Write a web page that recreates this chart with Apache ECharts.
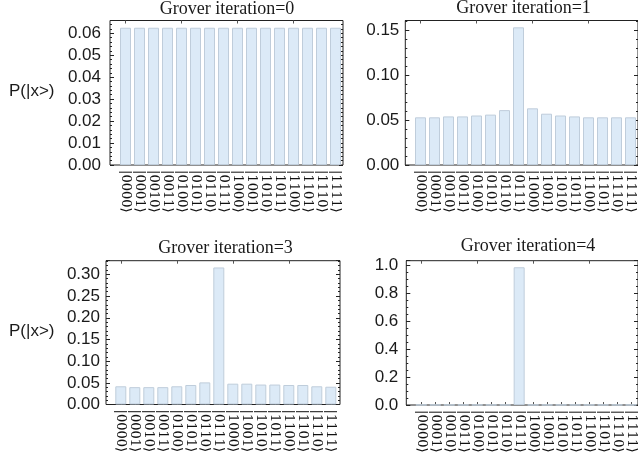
<!DOCTYPE html>
<html>
<head>
<meta charset="utf-8">
<script src="https://cdn.jsdelivr.net/npm/echarts@6/dist/echarts.min.js"></script>
<style>
html,body{margin:0;padding:0;background:#fff;}
#chart{width:638px;height:465px;}
</style>
</head>
<body>
<div id="chart"></div>
<script>
// ---- data ----
const categories = ['|0000⟩','|0001⟩','|0010⟩','|0011⟩','|0100⟩','|0101⟩','|0110⟩','|0111⟩',
                    '|1000⟩','|1001⟩','|1010⟩','|1011⟩','|1100⟩','|1101⟩','|1110⟩','|1111⟩'];
const titles = ['Grover iteration=0','Grover iteration=1','Grover iteration=3','Grover iteration=4'];
const yAxisName = 'P(|x>)';
const probIter0 = [0.0625,0.0625,0.0625,0.0625,0.0625,0.0625,0.0625,0.0625,0.0625,0.0625,0.0625,0.0625,0.0625,0.0625,0.0625,0.0625];
const probIter1 = [0.053,0.053,0.054,0.054,0.055,0.056,0.061,0.153,0.063,0.057,0.055,0.054,0.053,0.053,0.053,0.053];
const probIter3 = [0.042,0.040,0.040,0.040,0.042,0.045,0.051,0.316,0.048,0.048,0.046,0.046,0.045,0.045,0.042,0.041];
const probIter4 = [0.001,0.001,0.001,0.001,0.001,0.001,0.001,0.986,0.001,0.001,0.001,0.001,0.001,0.001,0.001,0.001];
const yMax = [0.0658, 0.1606, 0.3316, 1.033];
const yStep = [0.01, 0.05, 0.05, 0.2];
const yMinorStep = [0.002, 0.01, 0.01, 0.05];
const yDecimals = [2, 2, 2, 1];

// ---- layout ----
const panels = [
  {data: probIter0, frameLeft: 110,   top: 20.5,  height: 144.5, frameWidth: 233, barLeft: 118.5, labelMargin: 9, showName: true},
  {data: probIter1, frameLeft: 405.3, top: 20.5,  height: 144.5, frameWidth: 240, barLeft: 413.5, labelMargin: 6, showName: false},
  {data: probIter3, frameLeft: 106,   top: 260.7, height: 143.8, frameWidth: 234, barLeft: 113.8, labelMargin: 6, showName: true},
  {data: probIter4, frameLeft: 406.3, top: 260.7, height: 144.3, frameWidth: 240, barLeft: 414.3, labelMargin: 8, showName: false}
];
const titleCenters = [[227, 0.5], [523.5, -0.5], [225.5, 239], [528, 237.5]];

const grid = [], xAxis = [], yAxis = [], series = [], title = [], graphic = [];
const frameColor = '#222';

panels.forEach((p, i) => {
  const fg = grid.length;
  grid.push({left: p.frameLeft, top: p.top, width: p.frameWidth, height: p.height,
             show: true, borderColor: frameColor, borderWidth: 1, backgroundColor: 'transparent'});
  const bg = grid.length;
  grid.push({left: p.barLeft, top: p.top, width: 224, height: p.height});

  // frame axes
  xAxis.push({gridIndex: fg, type: 'value', show: false, min: 0, max: 1});
  const step = yStep[i], dec = yDecimals[i];
  const fmt = v => Math.abs(v / step - Math.round(v / step)) < 1e-6 ? v.toFixed(dec) : '';
  yAxis.push({gridIndex: fg, type: 'value', min: 0, max: yMax[i], interval: step, position: 'left',
    axisLine: {show: false}, splitLine: {show: false},
    axisTick: {show: true, inside: true, length: 4, lineStyle: {color: frameColor}},
    axisLabel: {formatter: fmt, fontFamily: 'Liberation Sans', fontSize: 17, color: '#1a1a1a',
                margin: p.labelMargin, padding: [0, 0, 5, 0]}});
  yAxis.push({gridIndex: fg, type: 'value', min: 0, max: yMax[i], interval: yMinorStep[i], position: 'left',
    axisLine: {show: false}, splitLine: {show: false}, axisLabel: {show: false},
    axisTick: {show: true, inside: true, length: 2, lineStyle: {color: frameColor}}});
  yAxis.push({gridIndex: fg, type: 'value', min: 0, max: yMax[i], interval: step, position: 'right',
    axisLine: {show: false}, splitLine: {show: false}, axisLabel: {show: false},
    axisTick: {show: true, inside: true, length: 4, lineStyle: {color: frameColor}}});
  yAxis.push({gridIndex: fg, type: 'value', min: 0, max: yMax[i], interval: yMinorStep[i], position: 'right',
    axisLine: {show: false}, splitLine: {show: false}, axisLabel: {show: false},
    axisTick: {show: true, inside: true, length: 2, lineStyle: {color: frameColor}}});

  // bar axes
  const xb = xAxis.length;
  xAxis.push({gridIndex: bg, type: 'category', data: categories, position: 'bottom',
    axisLine: {show: false},
    axisTick: {show: true, inside: true, alignWithLabel: true, length: 3, lineStyle: {color: '#555'}},
    axisLabel: {rotate: -90, interval: 0, margin: 5, fontFamily: 'DejaVu Serif', fontSize: 13, color: '#111'}});
  xAxis.push({gridIndex: bg, type: 'category', data: categories, position: 'top',
    axisLine: {show: false}, axisLabel: {show: false},
    axisTick: {show: true, inside: true, alignWithLabel: true, length: 3, lineStyle: {color: '#555'}}});
  const yb = yAxis.length;
  yAxis.push({gridIndex: bg, type: 'value', min: 0, max: yMax[i], show: false});

  series.push({type: 'bar', xAxisIndex: xb, yAxisIndex: yb, data: p.data, barWidth: 11,
    itemStyle: {color: '#dceaf7', borderColor: '#bfcddb', borderWidth: 1}});

  title.push({text: titles[i], left: titleCenters[i][0], top: titleCenters[i][1], textAlign: 'center', padding: 0,
    textStyle: {fontFamily: 'Liberation Serif', fontSize: 18, fontWeight: 'normal', color: '#1a1a1a'}});

  if (p.showName) {
    graphic.push({type: 'text', left: 9, top: p.top + p.height / 2 - 10,
      style: {text: yAxisName, font: '17px "Liberation Sans"', fill: '#1a1a1a'}});
  }
});

const chart = echarts.init(document.getElementById('chart'), null, {renderer: 'canvas'});
chart.setOption({animation: false, backgroundColor: '#fff', title, grid, xAxis, yAxis, series, graphic});
</script>
</body>
</html>
